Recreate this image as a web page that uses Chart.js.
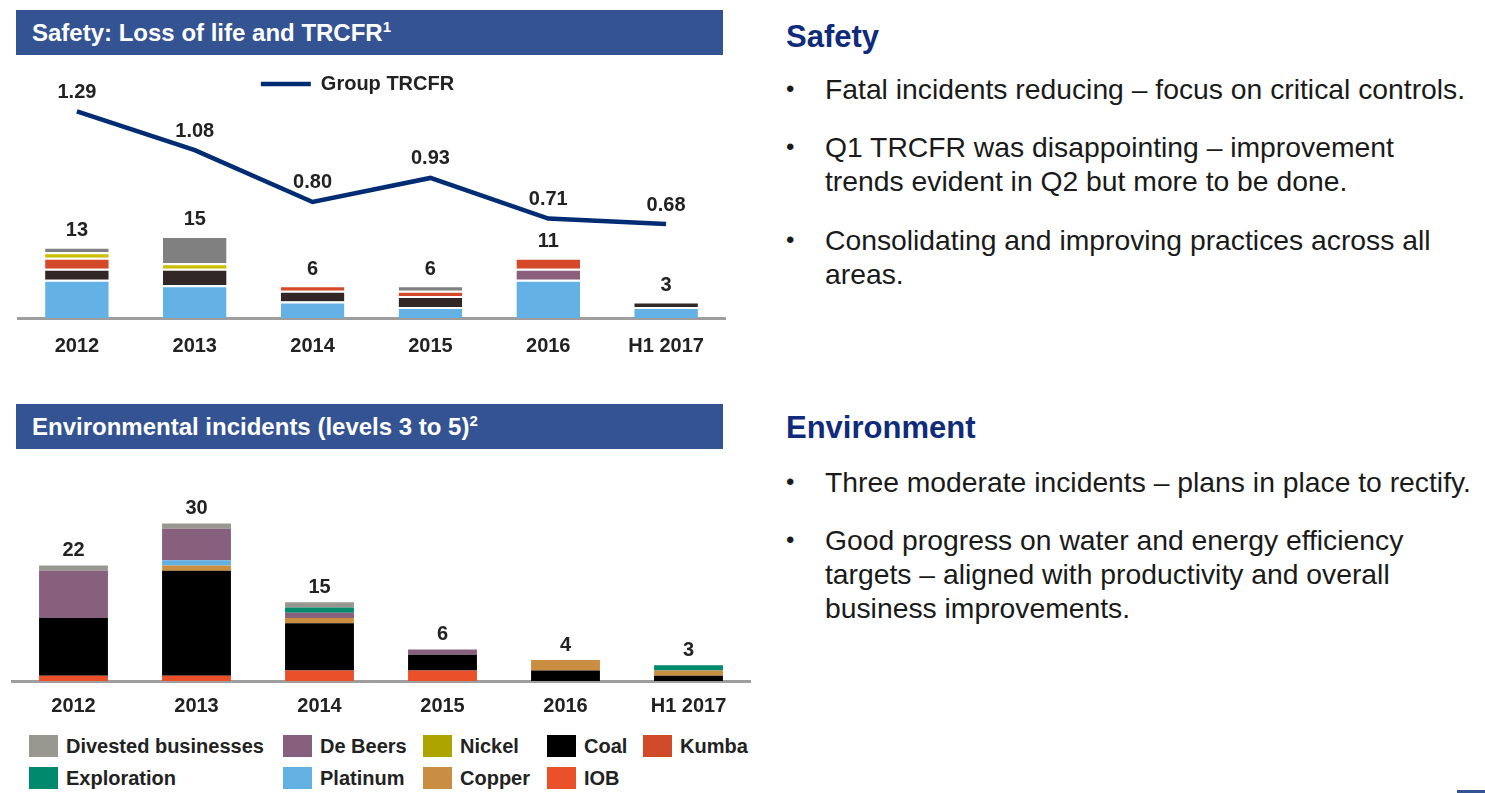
<!DOCTYPE html>
<html>
<head>
<meta charset="utf-8">
<script src="https://cdn.jsdelivr.net/npm/chart.js@4"></script>
<style>
  body { margin: 0; width: 1485px; height: 793px; background: #fff; position: relative; overflow: hidden; font-family: "Liberation Sans", Arial, sans-serif; }
  .cabecalho { position: absolute; left: 16px; width: 707px; height: 45px; background: #345393; color: #fff; font-weight: bold; font-size: 24px; line-height: 45px; padding-left: 16px; box-sizing: border-box; }
  .cabecalho sup { font-size: 15px; vertical-align: 9px; line-height: 0; }
  .caixa { position: absolute; left: 0; }
  .titulo { position: absolute; left: 786px; font-size: 31px; line-height: 31px; font-weight: bold; color: #102b7b; }
  .item { position: absolute; left: 825px; width: 650px; font-size: 28.3px; line-height: 34px; color: #1a1a1a; }
  .item::before { content: "\2022"; position: absolute; left: -39px; font-size: 24px; }
  #legendaAmb { position: absolute; left: 29px; top: 735px; display: grid; grid-template-columns: 254px 140px 124px 96px auto; row-gap: 10px; font-weight: bold; font-size: 20px; color: #222; }
  #legendaAmb div { display: flex; align-items: center; height: 22px; white-space: nowrap; }
  #legendaAmb span { display: inline-block; width: 29px; height: 22px; margin-right: 8px; }
  .traco { position: absolute; left: 1457px; top: 790px; width: 28px; height: 3px; background: #345393; }
</style>
</head>
<body>
<div class="cabecalho" style="top:10px">Safety: Loss of life and TRCFR<sup>1</sup></div>
<div class="caixa" style="top:62px; width:740px; height:312px"><canvas id="graficoSeguranca"></canvas></div>

<div class="cabecalho" style="top:404px">Environmental incidents (levels 3 to 5)<sup>2</sup></div>
<div class="caixa" style="top:470px; width:760px; height:261px"><canvas id="graficoAmbiente"></canvas></div>
<div id="legendaAmb"></div>

<div class="titulo" style="top:21px">Safety</div>
<div class="item" style="top:72px">Fatal incidents reducing – focus on critical controls.</div>
<div class="item" style="top:130px">Q1 TRCFR was disappointing – improvement trends evident in Q2 but more to be done.</div>
<div class="item" style="top:223px">Consolidating and improving practices across all areas.</div>

<div class="titulo" style="top:412px">Environment</div>
<div class="item" style="top:465px">Three moderate incidents – plans in place to rectify.</div>
<div class="item" style="top:523px">Good progress on water and energy efficiency targets – aligned with productivity and overall business improvements.</div>
<div class="traco"></div>

<script>
const anos = ["2012", "2013", "2014", "2015", "2016", "H1 2017"];

// Group TRCFR
const trcfr = [1.29, 1.08, 0.80, 0.93, 0.71, 0.68];

// perdas de vida por unidade
const segPlatinum = [7, 6, 3, 2, 7, 2];
const segCoal = [2, 3, 2, 2, 0, 1];
const segDeBeers = [0, 0, 0, 0, 2, 0];
const segKumba = [2, 0, 1, 1, 2, 0];
const segNickel = [1, 1, 0, 0, 0, 0];
const segDivested = [1, 5, 0, 1, 0, 0];

// incidentes ambientais por unidade
const ambIOB = [1, 1, 2, 2, 0, 0];
const ambCoal = [11, 20, 9, 3, 2, 1];
const ambCopper = [0, 1, 1, 0, 2, 1];
const ambPlatinum = [0, 1, 0, 0, 0, 0];
const ambDeBeers = [9, 6, 1, 1, 0, 0];
const ambExploration = [0, 0, 1, 0, 0, 1];
const ambDivested = [1, 1, 1, 0, 0, 0];
const ambNickel = [0, 0, 0, 0, 0, 0];
const ambKumba = [0, 0, 0, 0, 0, 0];

const ordemLegenda = ["Divested businesses", "De Beers", "Nickel", "Coal", "Kumba", "Exploration", "Platinum", "Copper", "IOB"];

const fonte = '"Liberation Sans", Arial, sans-serif';

function somaColunas(series) {
    return anos.map((a, i) => series.reduce((s, serie) => s + serie[i], 0));
}

// escreve os totais das pilhas e os valores da linha
const rotulos = {
    id: 'rotulos',
    afterDatasetsDraw(grafico, args, opcoes) {
        const ctx = grafico.ctx;
        const x = grafico.scales.x;
        const y = grafico.scales.y;
        ctx.save();
        ctx.fillStyle = '#222';
        ctx.textAlign = 'center';
        ctx.textBaseline = 'middle';
        ctx.font = 'bold 20px ' + fonte;
        opcoes.totais.forEach((t, i) => {
            ctx.fillText(t, x.getPixelForValue(i), y.getPixelForValue(t) - opcoes.distancia);
        });
        grafico.data.datasets.forEach((dataset, d) => {
            if (dataset.type !== 'line') return;
            grafico.getDatasetMeta(d).data.forEach((ponto, i) => {
                ctx.fillText(dataset.data[i].toFixed(2), ponto.x, ponto.y - 19);
            });
        });
        ctx.restore();
    }
};

// a legenda da linha fica um pouco a esquerda do centro
const deslocaLegenda = {
    id: 'deslocaLegenda',
    afterLayout(grafico) {
        grafico.legend.right -= 28;
    }
};

function barra(label, dados, cor, comBorda) {
    return {
        label: label,
        data: dados,
        backgroundColor: cor,
        borderColor: '#fff',
        borderWidth: comBorda ? { top: 2, left: 0, right: 0, bottom: 0 } : 0,
        borderSkipped: 'start',
        stack: 'pilha',
        yAxisID: 'y',
        order: 1
    };
}

function eixoX(padding, z) {
    return {
        offset: true,
        z: z,
        grid: { display: false, drawTicks: false },
        border: { display: true, color: '#9e9e9e', width: 3 },
        ticks: { padding: padding, color: '#222', font: { family: fonte, size: 20, weight: 'bold' } }
    };
}

const seriesSeguranca = [segPlatinum, segCoal, segDeBeers, segKumba, segNickel, segDivested];

const graficoSeguranca = new Chart(document.getElementById('graficoSeguranca'), {
    type: 'bar',
    data: {
        labels: anos,
        datasets: [
            {
                type: 'line',
                label: 'Group TRCFR',
                data: trcfr,
                borderColor: '#002c73',
                backgroundColor: '#002c73',
                borderWidth: 4.5,
                pointRadius: 0,
                tension: 0,
                yAxisID: 'y1',
                order: 0
            },
            barra('Platinum', segPlatinum, '#63b1e5', true),
            barra('Coal', segCoal, '#302726', true),
            barra('De Beers', segDeBeers, '#8a607d', true),
            barra('Kumba', segKumba, '#d4492a', true),
            barra('Nickel', segNickel, '#c9be00', true),
            barra('Divested businesses', segDivested, '#808080', true)
        ]
    },
    options: {
        responsive: true,
        maintainAspectRatio: false,
        animation: false,
        datasets: { bar: { categoryPercentage: 1, barPercentage: 0.54 } },
        layout: { padding: { left: 18, right: 15, bottom: 0 } },
        scales: {
            x: eixoX(16, 0),
            y: { display: false, stacked: true, min: 0, max: 39.1 },
            y1: { display: false, min: 0.172, max: 1.33 }
        },
        plugins: {
            tooltip: { enabled: false },
            legend: {
                display: true,
                position: 'top',
                labels: {
                    filter: item => item.text === 'Group TRCFR',
                    usePointStyle: true,
                    pointStyle: 'line',
                    pointStyleWidth: 50,
                    padding: 12,
                    color: '#222',
                    font: { family: fonte, size: 20, weight: 'bold' }
                }
            },
            rotulos: { totais: somaColunas(seriesSeguranca), distancia: 16 }
        }
    },
    plugins: [rotulos, deslocaLegenda]
});

const seriesAmbiente = [ambIOB, ambCoal, ambCopper, ambPlatinum, ambDeBeers, ambExploration, ambDivested, ambNickel, ambKumba];

const graficoAmbiente = new Chart(document.getElementById('graficoAmbiente'), {
    type: 'bar',
    data: {
        labels: anos,
        datasets: [
            barra('IOB', ambIOB, '#ea512b', false),
            barra('Coal', ambCoal, '#000000', false),
            barra('Copper', ambCopper, '#c98e42', false),
            barra('Platinum', ambPlatinum, '#63b0e3', false),
            barra('De Beers', ambDeBeers, '#87607e', false),
            barra('Exploration', ambExploration, '#00896c', false),
            barra('Divested businesses', ambDivested, '#989890', false),
            barra('Nickel', ambNickel, '#ada400', false),
            barra('Kumba', ambKumba, '#d14a2a', false)
        ]
    },
    options: {
        responsive: true,
        maintainAspectRatio: false,
        animation: false,
        datasets: { bar: { categoryPercentage: 1, barPercentage: 0.56 } },
        layout: { padding: { left: 12, right: 10, bottom: 0 } },
        scales: {
            x: eixoX(13, 1),
            y: { display: false, stacked: true, min: 0, max: 40.2 }
        },
        plugins: {
            tooltip: { enabled: false },
            legend: { display: false },
            rotulos: { totais: somaColunas(seriesAmbiente), distancia: 15 }
        }
    },
    plugins: [rotulos]
});

// legenda em html, montada a partir das series do grafico ambiental
const legendaAmb = document.getElementById('legendaAmb');
ordemLegenda.forEach(nome => {
    const ds = graficoAmbiente.data.datasets.find(d => d.label === nome);
    const item = document.createElement('div');
    item.innerHTML = '<span style="background:' + ds.backgroundColor + '"></span>' + nome;
    legendaAmb.appendChild(item);
});
</script>
</body>
</html>
